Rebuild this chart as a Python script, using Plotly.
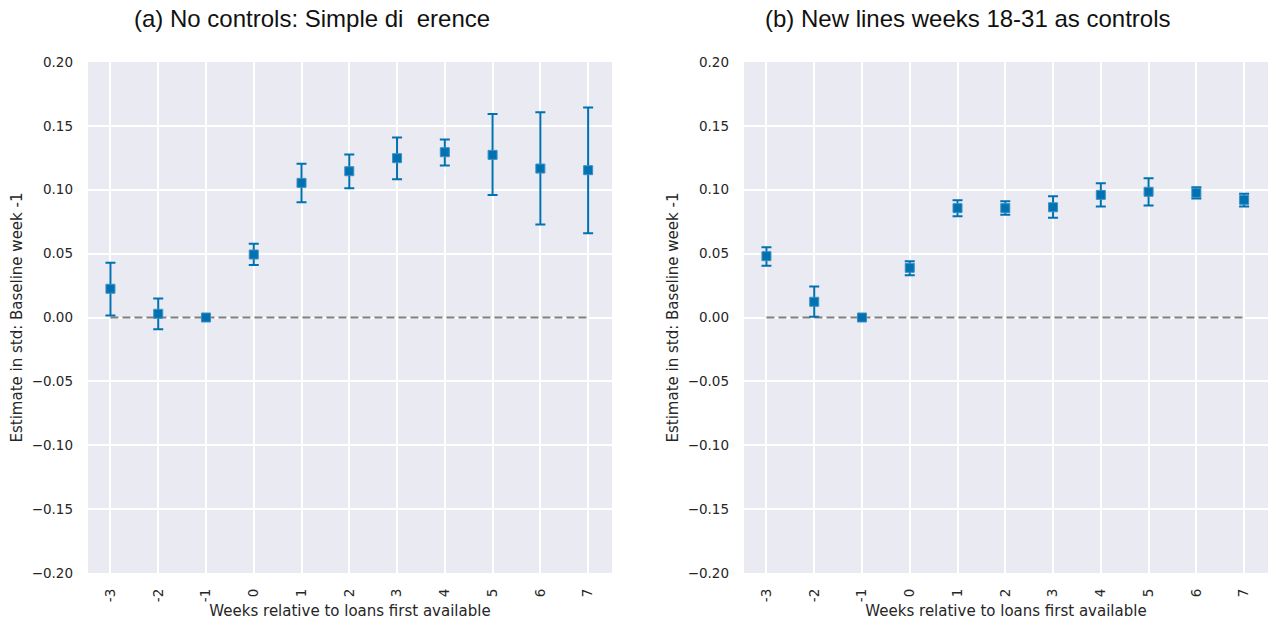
import plotly.graph_objects as go

# Event-time axis: weeks relative to when loans first became available
weeks = [-3, -2, -1, 0, 1, 2, 3, 4, 5, 6, 7]
week_labels = ["-3", "-2", "-1", "0", "1", "2", "3", "4", "5", "6", "7"]

# (a) No controls: point estimates and confidence bounds
est_a = [0.0225, 0.0029, 0.0, 0.0493, 0.1054, 0.1145, 0.1247, 0.1294, 0.1273, 0.1166, 0.1153]
hi_a = [0.0428, 0.0149, 0.0, 0.0577, 0.1203, 0.1276, 0.1409, 0.1393, 0.1592, 0.1607, 0.1644]
lo_a = [0.0016, -0.0091, 0.0, 0.0410, 0.0903, 0.1012, 0.1083, 0.1190, 0.0958, 0.0728, 0.0660]

# (b) New lines weeks 18-31 as controls
est_b = [0.0480, 0.0123, 0.0, 0.0389, 0.0856, 0.0856, 0.0863, 0.0960, 0.0984, 0.0976, 0.0921]
hi_b = [0.0550, 0.0243, 0.0, 0.0441, 0.0918, 0.0910, 0.0950, 0.1051, 0.1090, 0.1020, 0.0968]
lo_b = [0.0405, 0.0005, 0.0, 0.0331, 0.0793, 0.0804, 0.0780, 0.0869, 0.0877, 0.0932, 0.0869]

y_ticks = [0.20, 0.15, 0.10, 0.05, 0.0, -0.05, -0.10, -0.15, -0.20]
y_tick_text = ["0.20", "0.15", "0.10", "0.05", "0.00", "\u22120.05", "\u22120.10", "\u22120.15", "\u22120.20"]

titles = ["(a) No controls: Simple di\u00a0\u00a0erence", "(b) New lines weeks 18-31 as controls"]

BLUE = "#0072B2"
W, H = 1269, 625
TEXT = "#262626"

fig = go.Figure()

panels = [(est_a, hi_a, lo_a), (est_b, hi_b, lo_b)]
for i, (est, hi, lo) in enumerate(panels):
    xa = "x" if i == 0 else "x2"
    ya = "y" if i == 0 else "y2"
    # zero reference line across the event window
    fig.add_trace(go.Scatter(
        x=[weeks[0], weeks[-1]], y=[0, 0], mode="lines",
        line=dict(color="#808080", width=2, dash="8px,4px"),
        xaxis=xa, yaxis=ya, showlegend=False, hoverinfo="skip"))
    fig.add_trace(go.Scatter(
        x=weeks, y=est, mode="markers",
        marker=dict(symbol="square", size=9, color=BLUE,
                    line=dict(color="#3d8fc4", width=1)),
        error_y=dict(type="data", symmetric=False,
                     array=[h - e for h, e in zip(hi, est)],
                     arrayminus=[e - l for e, l in zip(est, lo)],
                     color=BLUE, thickness=2, width=5),
        xaxis=xa, yaxis=ya, showlegend=False))

dom_a = [88 / W, 612 / W]
dom_b = [744 / W, 1268 / W]
ydom = [1 - 573 / H, 1 - 62 / H]

xcommon = dict(range=[-3.47, 7.5], tickmode="array", tickvals=weeks, ticktext=week_labels,
               tickangle=-90, showgrid=True, gridcolor="white", gridwidth=1.5,
               zeroline=False, showline=False, ticks="", ticklabelstandoff=12,
               tickfont=dict(family="DejaVu Sans", size=13.5, color=TEXT),
               title=dict(text="Weeks relative to loans first available",
                          font=dict(family="DejaVu Sans", size=15, color=TEXT), standoff=4),
               automargin=False)
ycommon = dict(range=[-0.2, 0.2], tickmode="array", tickvals=y_ticks, ticktext=y_tick_text,
               showgrid=True, gridcolor="white", gridwidth=1.5,
               zeroline=False, showline=False, ticks="", ticklabelstandoff=14,
               tickfont=dict(family="DejaVu Sans", size=13.5, color=TEXT),
               title=dict(text="Estimate in std: Baseline week -1",
                          font=dict(family="DejaVu Sans", size=15, color=TEXT), standoff=5),
               automargin=False, domain=ydom)

title_font = dict(family="Liberation Sans, sans-serif", size=24, color="#111111")

fig.update_layout(
    width=W, height=H,
    margin=dict(l=0, r=0, t=0, b=0),
    paper_bgcolor="white", plot_bgcolor="#EAEAF2",
    xaxis=dict(domain=dom_a, anchor="y", **xcommon),
    yaxis=dict(anchor="x", **ycommon),
    xaxis2=dict(domain=dom_b, anchor="y2", **xcommon),
    yaxis2=dict(anchor="x2", **ycommon),
    annotations=[
        dict(text=titles[0], x=312 / W, y=1 - 18 / H, xref="paper", yref="paper",
             xanchor="center", yanchor="middle", showarrow=False, font=title_font),
        dict(text=titles[1], x=968 / W, y=1 - 18 / H, xref="paper", yref="paper",
             xanchor="center", yanchor="middle", showarrow=False, font=title_font),
    ],
)

fig.write_html("out.html")
